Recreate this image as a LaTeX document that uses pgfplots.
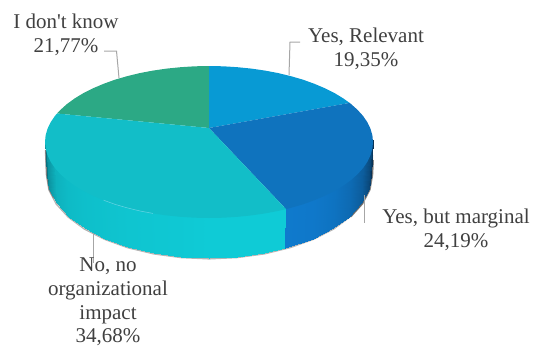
\documentclass[border=0pt]{standalone}
\usepackage{fontspec}
\setmainfont{Liberation Serif}
\usepackage{pgfplots}
\pgfplotsset{compat=1.18}
\definecolor{lbl}{RGB}{64,64,64}
\definecolor{leader}{RGB}{166,166,166}
\definecolor{wBlue}{RGB}{8,154,212}
\definecolor{wDark}{RGB}{15,115,190}
\definecolor{wTeal}{RGB}{18,190,200}
\definecolor{wGreen}{RGB}{44,169,133}
\tikzset{lab/.style={font=\fontsize{21}{23.7}\selectfont, text=lbl, align=center, inner sep=0pt}}
\begin{document}
\begin{tikzpicture}
\begin{axis}[
  scale only axis, width=534pt, height=343pt,
  xmin=0, xmax=534, ymin=0, ymax=343, y dir=reverse,
  hide axis, clip=false,
  point meta min=0, point meta max=1,
]
% Soft contact shadow below the rim
\addplot[gray!70!black, line width=1.5pt, opacity=.45, no markers] coordinates {
 (45.5,150) (46.5,175) (49,190) (56.3,204) (68.2,217) (84.4,229) (104.4,239.2) (127.5,247.6)
 (153.6,253.8) (180.9,257.5) (209,258.8) (237.1,257.5) (264.4,253.8) (290,247.6) (313.6,239.2)
 (333.6,229) (349.8,217) (361.7,204) (369,190) (371.7,175) (372.5,155)};
\addplot[black, line width=2.4pt, opacity=.45, no markers] coordinates {
 (350.5,216.5) (362.2,203.4) (369.5,189.4) (372,175) (372.8,160)};
\addplot[black, line width=1.8pt, opacity=.3, no markers] coordinates {
 (46,150) (47,175) (49.5,189.4) (54,198)};
% Side wall of the disc; its upper edge runs a little under the top face
\addplot[surf, shader=interp, mesh/rows=2, point meta=explicit,
  colormap={tealside}{rgb255(0cm)=(10,112,126); rgb255(1cm)=(15,203,214)}]
 table[meta=c] {
x y c
45 140 0
47.5 153 .4
54.9 165 .72
67 177 .82
83.4 188 .87
103.6 197 .9
127 205 .93
152.9 210 .95
180.5 214 .97
209 215 1
237.5 214 1
265.1 210 1
286 206 1
47 175 0
49.5 189.4 .4
56.8 203.4 .72
68.7 216.5 .82
84.9 228.4 .87
104.9 238.6 .9
128 246.9 .93
153.6 253 .95
180.9 256.7 .97
209 258 1
237.1 256.7 1
264.4 253 1
285 248.3 1
};
\addplot[surf, shader=interp, mesh/rows=2, point meta=explicit,
  colormap={blueside}{rgb255(0cm)=(8,50,85); rgb255(1cm)=(15,122,205)}]
 table[meta=c] {
x y c
286 206 1
314.4 197 .97
334.6 188 .9
351 177 .78
363.1 165 .6
370.5 153 .3
373 140 0
285 248.3 1
313.1 238.6 .97
333.1 228.4 .9
349.3 216.5 .78
361.2 203.4 .6
368.5 189.4 .3
371 175 0
};
% Top face, one closed outline per category
\addplot[fill=wGreen, draw=none] coordinates {
 (209,128) (57,113.5) (60.4,109.9) (67,104) (74.7,98.4) (83.4,93.1) (93,88.3) (103.6,83.8) (114.9,79.7)
 (127,76.2) (139.7,73.1) (152.9,70.6) (166.6,68.6) (180.5,67.2) (194.7,66.3) (209,66)} -- cycle;
\addplot[fill=wBlue, draw=none] coordinates {
 (209,128) (209,66) (223.3,66.3) (237.5,67.2) (251.4,68.6) (265.1,70.6) (278.3,73.1) (291,76.2) (303.1,79.7)
 (314.4,83.8) (325,88.3) (334.6,93.1) (343.3,98.4) (349.6,102.9)} -- cycle;
\addplot[fill=wDark, draw=none] coordinates {
 (209,128) (349.6,102.9) (351,104) (357.6,109.9) (363.1,116) (367.4,122.3) (370.5,128.8) (372.4,135.4) (373,142)
 (372.4,148.6) (370.5,155.2) (367.4,161.7) (363.1,168) (357.6,174.1) (351,180) (343.3,185.6) (334.6,190.9)
 (325,195.7) (314.4,200.2) (303.1,204.3) (291,207.8) (286,209.1)} -- cycle;
\addplot[fill=wTeal, draw=none] coordinates {
 (209,128) (286,209.1) (278.3,210.9) (265.1,213.4) (251.4,215.4) (237.5,216.8) (223.3,217.7) (209,218)
 (194.7,217.7) (180.5,216.8) (166.6,215.4) (152.9,213.4) (139.7,210.9) (127,207.8) (114.9,204.3) (103.6,200.2)
 (93,195.7) (83.4,190.9) (74.7,185.6) (67,180) (60.4,174.1) (54.9,168) (50.6,161.7) (47.5,155.2) (45.6,148.6)
 (45,142) (45.6,135.4) (47.5,128.8) (50.6,122.3) (54.9,116) (57,113.5)} -- cycle;
% Glint along the front edge
\addplot[color=cyan!30!white, line width=.5pt, opacity=.55, no markers] coordinates {
 (103.6,200.2) (114.9,204.3) (127,207.8) (139.7,210.9) (152.9,213.4)};
% Leader lines
\addplot[leader, line width=1pt, no markers] coordinates {(289,75) (290,42) (300,42)};
\addplot[leader, line width=1pt, no markers] coordinates {(119,78) (116.5,51) (104,51)};
\addplot[leader, line width=1pt, no markers] coordinates {(364,195) (364,223)};
\addplot[leader, line width=1pt, no markers] coordinates {(93.3,233) (93.3,263)};
% Category labels with their shares
\node[lab] at (axis cs:366,49) {Yes, Relevant\\19,35\%};
\node[lab] at (axis cs:456,230) {Yes, but marginal\\24,19\%};
\node[lab] at (axis cs:66,35) {I don\textquotesingle t know\\21,77\%};
\node[lab] at (axis cs:108,302) {No, no\\organizational\\impact\\34,68\%};
\path (axis cs:0,0) rectangle (axis cs:534,343);
\end{axis}
\end{tikzpicture}
\end{document}
